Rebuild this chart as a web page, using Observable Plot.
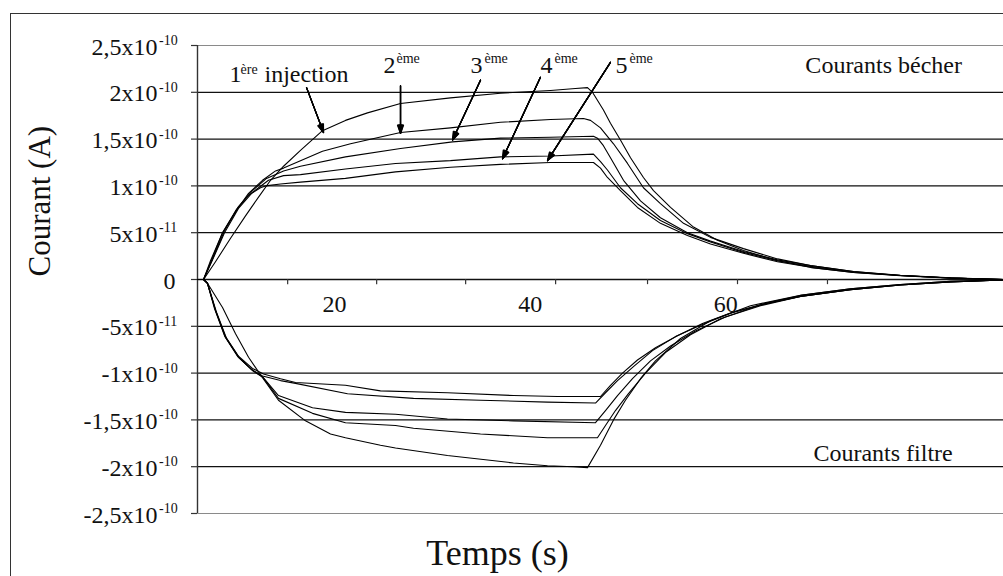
<!DOCTYPE html>
<html><head><meta charset="utf-8">
<script src="https://cdn.jsdelivr.net/npm/d3@7"></script>
<script src="https://cdn.jsdelivr.net/npm/@observablehq/plot@0.6"></script>
<style>
html,body{margin:0;padding:0;background:#fff;}
#wrap{position:relative;width:1003px;height:576px;overflow:hidden;background:#fff;}
#chart svg{display:block;}
#chart svg text{font-family:"Liberation Serif","Times New Roman",serif !important;}
#border{position:absolute;left:10px;top:13px;width:1200px;height:800px;border-left:1.5px solid #333;border-top:1.5px solid #333;box-sizing:border-box;pointer-events:none;}
</style></head>
<body><div id="wrap"><div id="chart"></div><div id="border"></div></div>
<script>
// Values in units of 1e-10 A, time in s : [temps, courant]
const becher1 = [[6,0],[6.6,0],[7.82,0.19],[9.36,0.44],[10.89,0.68],[12.22,0.88],[13.45,1.06],[14.78,1.21],[16.51,1.38],[18.76,1.59],[21.11,1.7],[23.36,1.78],[26.74,1.88],[31.85,1.94],[36.96,1.99],[42.08,2.02],[44.63,2.04],[45.86,2.05],[46.37,2.0],[47.49,1.81],[48.21,1.67],[49.23,1.49],[50.26,1.3],[51.58,1.09],[52.61,0.95],[54.35,0.77],[56.7,0.56],[59.15,0.42],[61.81,0.31],[65.29,0.2],[68.66,0.13],[73.06,0.075],[77.86,0.043],[82.98,0.016],[88.4,0]];
const becher2 = [[6,0],[6.6,0],[7.31,0.18],[8.54,0.5],[9.97,0.74],[11.2,0.92],[12.63,1.06],[13.96,1.16],[14.78,1.19],[16.51,1.27],[18.76,1.37],[21.63,1.45],[26.74,1.57],[31.85,1.62],[36.96,1.68],[42.08,1.71],[45.45,1.72],[46.17,1.7],[47.19,1.62],[48.52,1.45],[49.95,1.24],[51.58,0.98],[53.32,0.81],[55.68,0.6],[58.44,0.45],[61.81,0.33],[65.29,0.22],[68.66,0.15],[73.06,0.085],[77.86,0.045],[82.98,0.018],[88.4,0]];
const becher3 = [[6,0],[6.6,0],[7.52,0.22],[8.74,0.52],[10.17,0.78],[11.6,0.95],[13.04,1.08],[14.78,1.16],[16.51,1.21],[21.11,1.31],[26.74,1.4],[32.06,1.47],[36.96,1.51],[42.08,1.52],[46.47,1.53],[46.88,1.51],[47.49,1.43],[48.21,1.3],[49.54,1.06],[51.28,0.84],[53.32,0.66],[56.08,0.5],[58.44,0.41],[61.81,0.3],[65.29,0.21],[68.66,0.15],[73.06,0.085],[77.86,0.043],[82.98,0.016],[88.4,0]];
const becher4 = [[6,0],[6.6,0],[7.52,0.21],[8.74,0.5],[10.17,0.76],[11.6,0.93],[13.24,1.06],[14.78,1.11],[16.51,1.12],[21.11,1.18],[26.23,1.24],[31.85,1.27],[36.96,1.31],[42.08,1.32],[46.47,1.34],[47.19,1.26],[47.9,1.17],[49.23,0.98],[50.97,0.81],[53.32,0.63],[56.08,0.49],[58.44,0.4],[61.81,0.29],[65.29,0.2],[68.66,0.14],[73.06,0.08],[77.86,0.043],[82.98,0.016],[88.4,0]];
const becher5 = [[6,0],[6.6,0],[7.31,0.2],[8.54,0.5],[9.97,0.75],[11.2,0.9],[12.42,0.98],[12.93,1.0],[14.47,1.02],[16.51,1.04],[21.11,1.08],[26.23,1.15],[31.85,1.2],[36.96,1.23],[42.08,1.25],[46.47,1.25],[47.19,1.19],[47.9,1.09],[49.23,0.95],[50.97,0.77],[53.32,0.6],[56.08,0.47],[58.44,0.38],[61.81,0.28],[65.29,0.19],[68.66,0.13],[73.06,0.075],[77.86,0.04],[82.98,0.015],[88.4,0]];
const filtre1 = [[6,0],[6.6,0],[7.0,-0.04],[8.54,-0.3],[9.87,-0.58],[11.2,-0.83],[12.63,-1.05],[14.26,-1.29],[17.02,-1.51],[19.58,-1.65],[21.11,-1.69],[24.69,-1.77],[26.23,-1.8],[31.54,-1.88],[38.29,-1.96],[41.77,-1.99],[44.43,-2.0],[45.86,-2.01],[47.19,-1.77],[48.52,-1.5],[49.74,-1.29],[51.28,-1.06],[52.81,-0.87],[55.37,-0.63],[58.44,-0.44],[62.53,-0.28],[67.64,-0.17],[72.75,-0.1],[77.86,-0.053],[82.98,-0.02],[88.4,-0.005]];
const filtre2 = [[6,0],[6.6,0],[7.0,-0.04],[7.82,-0.33],[8.84,-0.62],[10.17,-0.83],[11.6,-0.97],[12.63,-1.04],[14.26,-1.27],[17.74,-1.43],[21.11,-1.53],[26.23,-1.56],[28.07,-1.59],[34.92,-1.65],[41.77,-1.69],[46.88,-1.69],[47.7,-1.56],[48.72,-1.4],[50.05,-1.22],[51.79,-1.0],[53.83,-0.78],[56.39,-0.59],[59.46,-0.42],[63.55,-0.27],[67.64,-0.18],[72.75,-0.11],[77.86,-0.059],[82.98,-0.027],[88.4,-0.005]];
const filtre3 = [[6,0],[6.6,0],[7.0,-0.04],[7.92,-0.35],[8.95,-0.63],[10.27,-0.84],[11.7,-0.98],[12.73,-1.05],[14.26,-1.24],[17.74,-1.37],[21.11,-1.42],[26.23,-1.44],[31.54,-1.49],[38.29,-1.51],[46.68,-1.53],[47.7,-1.4],[48.93,-1.24],[50.46,-1.06],[52.3,-0.87],[54.35,-0.71],[56.9,-0.55],[59.97,-0.4],[63.55,-0.28],[67.64,-0.18],[72.75,-0.11],[77.86,-0.059],[82.98,-0.027],[88.4,-0.005]];
const filtre4 = [[6,0],[6.6,0],[7.0,-0.04],[7.72,-0.31],[8.74,-0.6],[10.07,-0.82],[11.5,-0.96],[12.63,-1.03],[14.47,-1.08],[16.0,-1.11],[21.32,-1.22],[28.07,-1.27],[34.92,-1.29],[41.77,-1.31],[46.68,-1.32],[47.7,-1.21],[48.93,-1.08],[50.56,-0.93],[52.51,-0.76],[54.86,-0.61],[57.41,-0.49],[60.48,-0.36],[64.06,-0.26],[67.64,-0.18],[72.75,-0.11],[77.86,-0.059],[82.98,-0.027],[88.4,-0.005]];
const filtre5 = [[6,0],[6.6,0],[7.0,-0.04],[7.82,-0.33],[8.84,-0.61],[10.17,-0.82],[11.6,-0.95],[12.73,-1.01],[14.47,-1.06],[16.0,-1.1],[21.11,-1.13],[24.69,-1.19],[31.54,-1.21],[38.29,-1.24],[42.79,-1.25],[47.19,-1.25],[48.21,-1.13],[49.44,-1.0],[50.97,-0.86],[52.81,-0.73],[55.06,-0.6],[57.62,-0.47],[60.68,-0.35],[64.26,-0.25],[67.64,-0.17],[72.75,-0.1],[77.86,-0.053],[82.98,-0.02],[88.4,-0.005]];

const seriesNames = ["becher1","becher2","becher3","becher4","becher5","filtre1","filtre2","filtre3","filtre4","filtre5"];
const seriesPoints = [becher1,becher2,becher3,becher4,becher5,filtre1,filtre2,filtre3,filtre4,filtre5];

const yTickValues = [2.5, 2, 1.5, 1, 0.5, 0, -0.5, -1, -1.5, -2, -2.5];
const yTickMantissa = ["2,5","2","1,5","1","5","0","-5","-1","-1,5","-2","-2,5"];
const yTickExponent = ["-10","-10","-10","-10","-11","","-11","-10","-10","-10","-10"];
const yGrid = [2, 1.5, 1, 0.5, 0, -0.5, -1, -1.5, -2];
const xTickMarks = [15.2, 24.3, 33.4, 42.6, 52.0, 61.2, 70.4];
const xTickLabels = [20, 40, 60];

const injNumbers = ["1","2","3","4","5"];
const injSuffix = ["ère","ème","ème","ème","ème"];

const xMin = 5.98, xMax = 88.4;
const font = '"Liberation Serif","Times New Roman",serif';
const ink = "#111";

const data = seriesNames.flatMap((name, i) => seriesPoints[i].map(([t, v]) => ({name, t, v})));

// annotation anchors (data coordinates)
const numPos = [[9.25,2.105],[25.0,2.21],[33.9,2.21],[41.05,2.21],[48.72,2.21]];
const supPos = [[10.38,2.20],[26.33,2.31],[35.33,2.31],[42.48,2.31],[50.15,2.31]];
const arrows = [[17.13,2.05,18.87,1.57],[26.74,2.07,26.74,1.56],[34.92,2.13,32.06,1.49],[41.05,2.16,37.17,1.29],[48.21,2.32,41.77,1.27]];

const idx = d3.range(yTickValues.length);
const withExp = idx.filter(i => yTickExponent[i] !== "");
const noExp = idx.filter(i => yTickExponent[i] === "");
const inj = d3.range(injNumbers.length);

const headMarks = [10, 18, 26, 34, 40].map(a => Plot.arrow(arrows, {
  x1: d => d[0], y1: d => d[1], x2: d => d[2], y2: d => d[3],
  headLength: 11, headAngle: a, stroke: "#000", strokeWidth: 1.2
}));

const T = {fontFamily: font, fill: ink};

const chart = Plot.plot({
  width: 1003, height: 576,
  marginLeft: 197, marginRight: 0, marginTop: 45, marginBottom: 63,
  x: {domain: [xMin, xMax], axis: null},
  y: {domain: [-2.5, 2.5], axis: null},
  style: {fontFamily: font, background: "transparent", overflow: "visible", color: ink},
  marks: [
    Plot.ruleY([2.5, -2.5], {stroke: "#8a8a8a", strokeWidth: 1.2}),
    Plot.ruleY(yGrid, {stroke: "#111", strokeWidth: 1.3}),
    Plot.ruleX([xMin], {stroke: "#333", strokeWidth: 1.4}),
    Plot.axisY({ticks: yTickValues, tickSize: 6, tickFormat: () => "", label: null, stroke: "#333", strokeWidth: 1.2}),
    Plot.ruleX(xTickMarks, {y1: 0, y2: -0.055, stroke: "#333", strokeWidth: 1.2}),
    Plot.line(data, {x: "t", y: "v", z: "name", stroke: "#000", strokeWidth: 1.1}),
    // y tick labels
    Plot.text(withExp, {...T, y: i => yTickValues[i], text: i => yTickMantissa[i] + "x10", frameAnchor: "left",
      textAnchor: "end", lineAnchor: "middle", dx: -40, dy: 1.5, fontSize: 24}),
    Plot.text(withExp, {...T, y: i => yTickValues[i], text: i => yTickExponent[i], frameAnchor: "left",
      textAnchor: "start", lineAnchor: "middle", dx: -38.5, dy: -5, fontSize: 14}),
    Plot.text(noExp, {...T, y: i => yTickValues[i], text: i => yTickMantissa[i], frameAnchor: "left",
      textAnchor: "end", lineAnchor: "middle", dx: -22, dy: 1.5, fontSize: 24}),
    // x tick labels
    Plot.text(xTickLabels, {...T, x: d => d, y: 0, text: d => String(d), dy: 25, lineAnchor: "middle", fontSize: 24}),
    // axis titles
    Plot.text(["Courant (A)"], {...T, frameAnchor: "left", dx: -157, dy: -3, rotate: -90, fontSize: 31, lineAnchor: "middle"}),
    Plot.text(["Temps (s)"], {...T, frameAnchor: "bottom", dx: -103, dy: 51, lineAnchor: "bottom", fontSize: 36}),
    // injection labels
    Plot.text(inj, {...T, x: i => numPos[i][0], y: i => numPos[i][1], text: i => injNumbers[i], textAnchor: "start", lineAnchor: "bottom", fontSize: 24}),
    Plot.text(inj, {...T, x: i => supPos[i][0], y: i => supPos[i][1], text: i => injSuffix[i], textAnchor: "start", lineAnchor: "bottom", fontSize: 14}),
    Plot.text(["injection"], {...T, x: 12.83, y: 2.105, textAnchor: "start", lineAnchor: "bottom", fontSize: 24}),
    Plot.text(["Courants bécher"], {...T, x: 68.14, y: 2.21, textAnchor: "start", lineAnchor: "bottom", fontSize: 24}),
    Plot.text(["Courants filtre"], {...T, x: 68.96, y: -1.934, textAnchor: "start", lineAnchor: "bottom", fontSize: 24}),
    ...headMarks
  ]
});
document.getElementById("chart").appendChild(chart);
</script>
</body></html>
